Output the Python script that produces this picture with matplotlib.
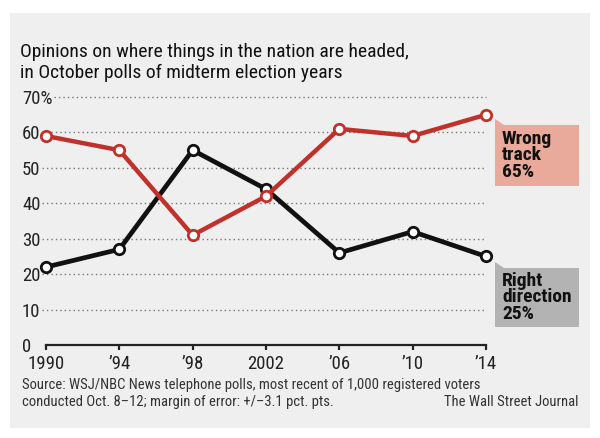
import matplotlib.pyplot as plt
from matplotlib.patches import Rectangle, Polygon
from matplotlib import font_manager

names = {f.name for f in font_manager.fontManager.ttflist}
base = 'Liberation Sans'
for cand in ['Liberation Sans Narrow', 'DejaVu Sans Condensed', 'Roboto Condensed']:
    if cand in names:
        base = cand
        break
plt.rcParams['font.family'] = [base, 'DejaVu Sans']

years = [1990, 1994, 1998, 2002, 2006, 2010, 2014]
year_labels = ['1990', "\u201994", "\u201998", '2002', "\u201906", "\u201910", "\u201914"]
wrong_track = [59, 55, 31, 42, 61, 59, 65]
right_direction = [22, 27, 55, 44, 26, 32, 25]
y_ticks = [0, 10, 20, 30, 40, 50, 60, 70]
y_labels = ['0', '10', '20', '30', '40', '50', '60', '70%']

red = '#c1312b'
dark = '#111111'

fig = plt.figure(figsize=(6, 4.38), dpi=100)
fig.patches.append(Rectangle((10 / 600, 1 - 428 / 438), 580 / 600, 415 / 438,
                             transform=fig.transFigure, facecolor='#efefef',
                             edgecolor='none', zorder=-10))

ax = fig.add_axes([46 / 600, 1 - 345 / 438, 440 / 600, 248 / 438])
ax.set_facecolor('none')
ax.set_xlim(1990, 2014)
ax.set_ylim(0, 70)

for y in y_ticks[1:]:
    start = 54 if y == 70 else 42
    ax.axhline(y, xmin=(start - 46) / 440, color='#777777', lw=1,
               ls=(0, (1, 2.2)), zorder=1, clip_on=False)

ax.plot(years, right_direction, color=dark, lw=3.4, marker='o', ms=7.5,
        mfc='white', mec=dark, mew=2, clip_on=False, zorder=3)
ax.plot(years, wrong_track, color=red, lw=3.2, marker='o', ms=7.5,
        mfc='white', mec=red, mew=2, clip_on=False, zorder=4)

for s in ['top', 'right', 'left']:
    ax.spines[s].set_visible(False)
ax.spines['bottom'].set_color('#222222')
ax.spines['bottom'].set_linewidth(1.6)

ax.set_xticks(years)
ax.set_xticklabels(year_labels, fontsize=13.5, color='#222222')
ax.tick_params(axis='x', direction='out', length=3.5, width=1.6, color='#222222', pad=4)
ax.set_yticks(y_ticks)
ax.set_yticklabels(y_labels, fontsize=13.5, color='#222222', ha='left')
ax.tick_params(axis='y', length=0, pad=17.3)

fig.text(20 / 600, 1 - 52 / 438, 'Opinions on where things in the nation are headed,',
         fontsize=14, color='#111111', va='center')
fig.text(20 / 600, 1 - 73 / 438, 'in October polls of midterm election years',
         fontsize=14, color='#111111', va='center')

# label boxes with small pointer
def label_box(y0, y1, color, text):
    fig.patches.append(Rectangle((495 / 600, 1 - y1 / 438), 84 / 600, (y1 - y0) / 438,
                                 transform=fig.transFigure, facecolor=color,
                                 edgecolor='none', zorder=-5))
    fig.patches.append(Polygon([(495 / 600, 1 - (y0 - 6) / 438), (495 / 600, 1 - y0 / 438),
                                (504 / 600, 1 - y0 / 438)],
                               transform=fig.transFigure, facecolor=color,
                               edgecolor='none', zorder=-5))
    fig.text(502 / 600, 1 - (y0 + y1) / 2 / 438, text, fontsize=14, fontweight='bold',
             color='#111111', va='center', ha='left', linespacing=0.9)

label_box(125, 186, '#e9a99b', 'Wrong\ntrack\n65%')
label_box(268, 327, '#b3b3b3', 'Right\ndirection\n25%')

fig.text(22 / 600, 1 - 385 / 438,
         'Source: WSJ/NBC News telephone polls, most recent of 1,000 registered voters',
         fontsize=10.5, color='#333333', va='center')
fig.text(22 / 600, 1 - 402 / 438,
         'conducted Oct. 8\u201312; margin of error: +/\u20133.1 pct. pts.',
         fontsize=10.5, color='#333333', va='center')
fig.text(578 / 600, 1 - 402 / 438, 'The Wall Street Journal',
         fontsize=10.5, color='#333333', va='center', ha='right')

fig.savefig('out.png', dpi=100)
